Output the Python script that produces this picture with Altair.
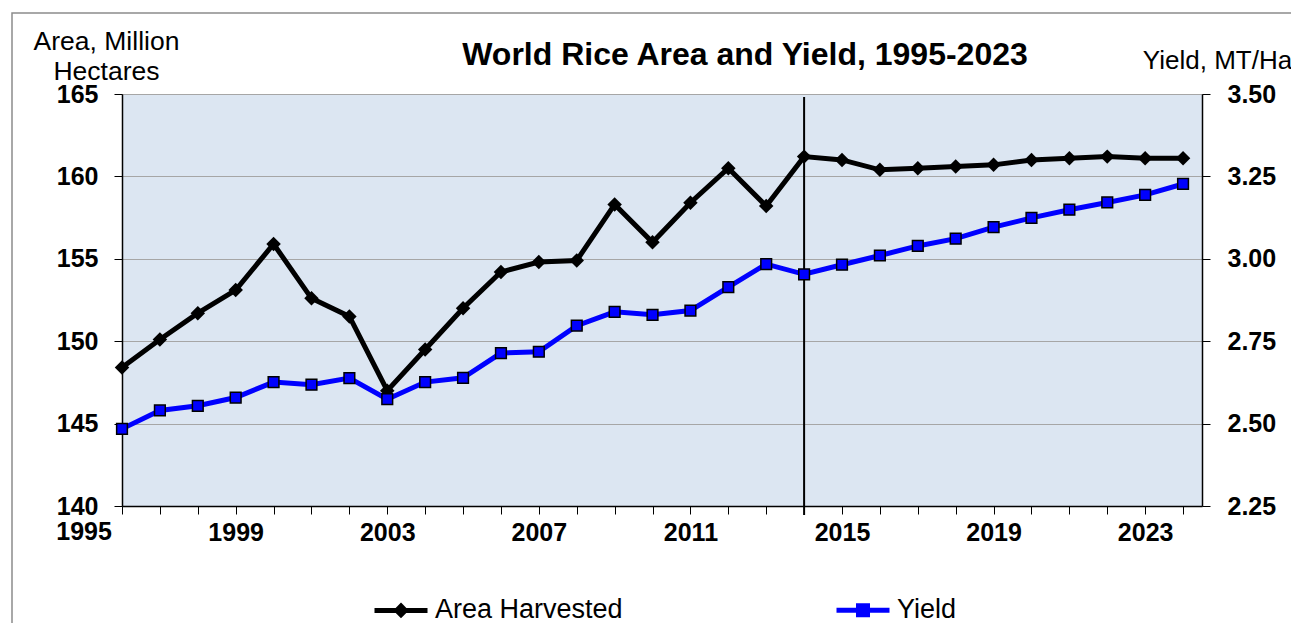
import altair as alt
import pandas as pd

# ---- data ----
years = list(range(1996, 2025))
area = [148.4, 150.1, 151.7, 153.1, 155.9, 152.6, 151.5, 147.0, 149.5, 152.0,
        154.2, 154.8, 154.9, 158.3, 156.0, 158.4, 160.5, 158.2, 161.2, 161.0,
        160.4, 160.5, 160.6, 160.7, 161.0, 161.1, 161.2, 161.1, 161.1]
yield_mt = [2.484, 2.540, 2.554, 2.579, 2.626, 2.618, 2.638, 2.574, 2.626, 2.639,
            2.714, 2.718, 2.797, 2.839, 2.830, 2.843, 2.914, 2.984, 2.953, 2.982,
            3.010, 3.039, 3.061, 3.096, 3.124, 3.149, 3.171, 3.194, 3.227]
series = ["Area Harvested", "Yield"]
series_colors = ["black", "#0000FF"]
area_ticks = [140, 145, 150, 155, 160, 165]
yield_ticks = [2.25, 2.50, 2.75, 3.00, 3.25, 3.50]
label_years = [1995, 1999, 2003, 2007, 2011, 2015, 2019, 2023]
divider_year = [2014]
title_text = "World Rice Area and Yield, 1995-2023"

W, H = 1080, 412
FONT = "Liberation Sans"
PLOT_BG = "#DCE6F2"

df = pd.DataFrame({"year": years, "area": area, "yld": yield_mt})

shown = [y for y in label_years if y >= years[0]]
x_axis = alt.Axis(
    values=years, format="d",
    labelExpr="indexof(" + str(shown) + ", datum.value) >= 0 ? datum.label : ''",
    title=None, grid=False, tickSize=8, tickColor="black", tickWidth=1,
    domainColor="black", domainWidth=1.5, labelPadding=6,
    labelFont=FONT, labelFontSize=25, labelFontWeight="bold", labelColor="black",
    labelOverlap=False, labelFlush=False,
)
x_scale = alt.Scale(domain=[1996, 2024.5], nice=False, zero=False)
x_enc = alt.X("year:Q", scale=x_scale, axis=x_axis)

left_axis = alt.Axis(
    values=area_ticks, title=["Area, Million", "Hectares"], titleAngle=0,
    titleAlign="center", titleBaseline="alphabetic", titleX=-16, titleY=-45,
    titleFont=FONT, titleFontSize=26.5, titleFontWeight="normal", titleColor="black",
    titleLineHeight=30,
    labelFont=FONT, labelFontSize=25, labelFontWeight="bold", labelColor="black",
    labelPadding=16, tickSize=8, tickColor="black", domainColor="black", domainWidth=1.5,
    grid=True, gridColor="#A6A6A6", gridWidth=1,
)
right_axis = alt.Axis(
    orient="right", values=yield_ticks, format=".2f", title="Yield, MT/Ha", titleAngle=0,
    titleAlign="center", titleBaseline="alphabetic", titleX=15, titleY=-26,
    titleFont=FONT, titleFontSize=26, titleFontWeight="normal", titleColor="black",
    labelFont=FONT, labelFontSize=25, labelFontWeight="bold", labelColor="black",
    labelPadding=17, tickSize=8, tickColor="black", domainColor="black", domainWidth=1.5,
    grid=False,
)

y_area = alt.Y("area:Q", scale=alt.Scale(domain=[140, 165], nice=False, zero=False), axis=left_axis)
y_yld = alt.Y("yld:Q", scale=alt.Scale(domain=[2.25, 3.5], nice=False, zero=False), axis=right_axis)

base = alt.Chart(df)
area_layer = alt.layer(
    base.mark_line(color="black", strokeWidth=5).encode(x=x_enc, y=y_area),
    base.mark_point(shape="diamond", filled=True, color="black", size=210, opacity=1).encode(x=x_enc, y=y_area),
)
yield_layer = alt.layer(
    base.mark_line(color="#0000FF", strokeWidth=5).encode(x=x_enc, y=y_yld),
    base.mark_point(shape="square", filled=True, fill="#0000FF", stroke="black",
                    strokeWidth=1.5, size=115, opacity=1).encode(x=x_enc, y=y_yld),
)

divider = alt.Chart(pd.DataFrame({"year": divider_year})).mark_rule(
    color="black", strokeWidth=2
).encode(x=x_enc, y=alt.value(3), y2=alt.value(H + 9))

first_label = alt.Chart(pd.DataFrame({"year": [y for y in label_years if y < years[0]]})).mark_text(
    font=FONT, fontSize=25, fontWeight="bold", color="black", baseline="top", align="center"
).encode(x=x_enc, y=alt.value(H + 14), text=alt.Text("year:Q", format="d"))

frame = alt.Chart(pd.DataFrame({"f": [0]})).mark_rect(
    fillOpacity=0, stroke="#8C8C8C", strokeWidth=1.5
).encode(x=alt.value(-110), y=alt.value(-81), x2=alt.value(W + 400), y2=alt.value(H + 400))

path_area = "M-1,0L1,0M0,-0.16L0.16,0L0,0.16L-0.16,0Z"
path_yield = "M-1,0L1,0M-0.17,-0.17L0.17,-0.17L0.17,0.17L-0.17,0.17Z"
leg = alt.Legend(
    title=None, orient="none", legendX=250, legendY=487, direction="horizontal",
    columnPadding=203, symbolSize=2809, symbolStrokeWidth=5, symbolOpacity=1,
    labelFont=FONT, labelFontSize=27, labelColor="black", labelOffset=5, padding=0,
    labelLimit=400,
)
legend_layer = alt.Chart(pd.DataFrame({"series": series})).mark_point(opacity=0, filled=False).encode(
    color=alt.Color("series:N", scale=alt.Scale(domain=series, range=series_colors), legend=leg),
    shape=alt.Shape("series:N", scale=alt.Scale(domain=series, range=[path_area, path_yield]), legend=leg),
)

chart = alt.layer(
    frame, divider, area_layer, yield_layer, first_label, legend_layer
).resolve_scale(y="independent").properties(
    width=W, height=H,
    title=alt.TitleParams(title_text, font=FONT, fontSize=32, fontWeight="bold", color="black",
                          anchor="middle", frame="group", dx=83, baseline="alphabetic",
                          offset=-85),
    autosize=alt.AutoSizeParams(type="none"),
    padding={"left": 114, "top": 86, "right": 89, "bottom": 117},
    background="white",
    view=alt.ViewBackground(fill=PLOT_BG, stroke="#A6A6A6", strokeWidth=1),
)

chart.save("out.html", embed_options={"renderer": "svg", "actions": False})
